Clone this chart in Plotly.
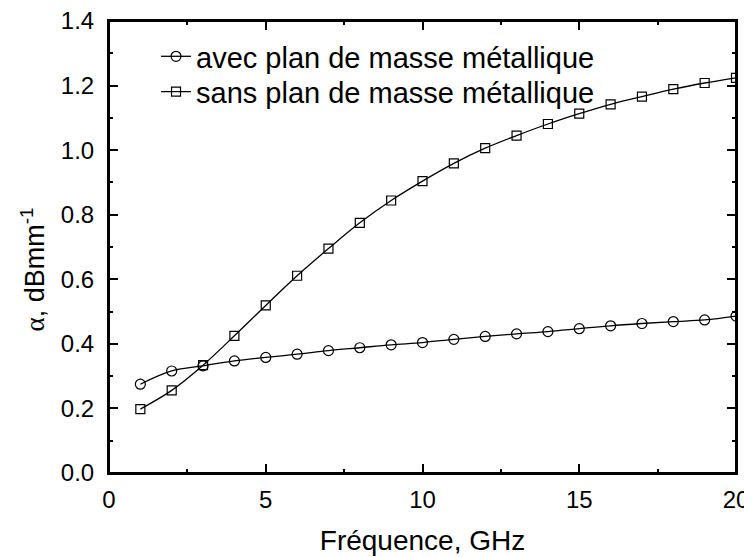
import plotly.graph_objects as go

freq = list(range(1, 21))
avec = [0.275, 0.316, 0.332, 0.347, 0.358, 0.368, 0.379, 0.388, 0.397, 0.404,
        0.414, 0.423, 0.431, 0.438, 0.447, 0.456, 0.463, 0.469, 0.474, 0.486]
sans = [0.198, 0.256, 0.334, 0.425, 0.519, 0.611, 0.695, 0.775, 0.844, 0.904,
        0.959, 1.006, 1.045, 1.081, 1.113, 1.142, 1.166, 1.189, 1.208, 1.224]
names = ["avec plan de masse métallique", "sans plan de masse métallique"]

FONT = "Arial, Liberation Sans, sans-serif"

fig = go.Figure()
fig.add_trace(go.Scatter(x=freq, y=avec, name=names[0], mode="lines+markers",
                         line=dict(color="black", width=1.3, shape="spline"),
                         marker=dict(symbol="circle-open", size=10, color="black",
                                     line=dict(width=1.2)),
                         legend="legend"))
fig.add_trace(go.Scatter(x=freq, y=sans, name=names[1], mode="lines+markers",
                         line=dict(color="black", width=1.3, shape="spline"),
                         marker=dict(symbol="square-open", size=9, color="black",
                                     line=dict(width=1.2)),
                         legend="legend2"))

axis_common = dict(showline=True, linecolor="black", linewidth=2, mirror="allticks",
                   ticks="inside", ticklen=9, tickwidth=1.5, tickcolor="black",
                   showgrid=False, zeroline=False, automargin=False,
                   ticklabeloverflow="allow",
                   tickfont=dict(family=FONT, size=24, color="black"))

fig.update_xaxes(range=[0, 20], dtick=5, tick0=0, ticklabelstandoff=4,
                 minor=dict(dtick=2.5, ticks="inside", ticklen=4, tickcolor="black", tickwidth=1.5),
                 title=dict(text="Fréquence, GHz", font=dict(family=FONT, size=28, color="black"),
                            standoff=19),
                 **axis_common)
fig.update_yaxes(range=[0, 1.4], dtick=0.2, tick0=0, tickformat=".1f", ticklabelstandoff=8,
                 minor=dict(dtick=0.1, ticks="inside", ticklen=4, tickcolor="black", tickwidth=1.5),
                 title=dict(text="<span style='font-family:serif'>α</span>, dBmm<sup>-1</sup>"
                                 "&nbsp;&nbsp;&nbsp;&nbsp;&nbsp;&nbsp;",
                            font=dict(family=FONT, size=27, color="black"), standoff=8),
                 **axis_common)

fig.add_shape(type="rect", xref="paper", yref="paper", x0=0, y0=0, x1=1, y1=1,
              line=dict(color="black", width=2), layer="above")

legend_style = dict(xanchor="left", yanchor="top", bgcolor="rgba(0,0,0,0)", borderwidth=0,
                    font=dict(family=FONT, size=29, color="black"))

# page body has an 8px margin, so the figure is sized/offset to compensate
fig.update_layout(width=744, height=549, plot_bgcolor="white", paper_bgcolor="white",
                  margin=dict(l=101, r=16, t=13, b=84, pad=0),
                  font=dict(family=FONT, color="black"),
                  showlegend=True,
                  legend=dict(x=0.075, y=0.978, **legend_style),
                  legend2=dict(x=0.075, y=0.900, **legend_style))

fig.write_html("out.html")
